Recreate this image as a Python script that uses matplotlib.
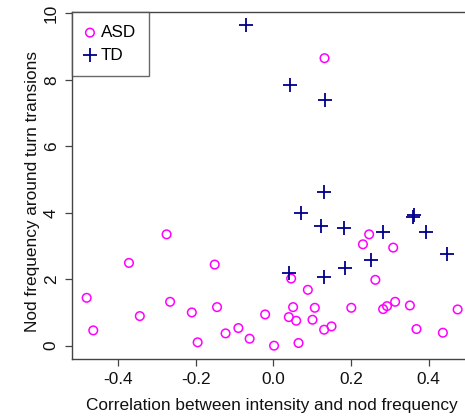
import matplotlib
matplotlib.use("Agg")
import matplotlib.pyplot as plt

plt.rcParams['font.family'] = ['Liberation Sans', 'DejaVu Sans']

# ASD group (circles)
asd_x = [-0.275, -0.372, -0.481, -0.266, -0.344, -0.210, -0.464, -0.195,
         -0.151, -0.145, -0.123, -0.090, -0.061,
         -0.021, 0.002, 0.046, 0.089, 0.051, 0.040, 0.059, 0.065, 0.107, 0.101, 0.131, 0.150,
         0.247, 0.231, 0.309, 0.263, 0.201, 0.283, 0.293, 0.314, 0.352, 0.369, 0.437, 0.475,
         0.132]
asd_y = [3.35, 2.49, 1.44, 1.32, 0.89, 1.00, 0.46, 0.10,
         2.44, 1.16, 0.37, 0.53, 0.21,
         0.94, 0.00, 2.02, 1.68, 1.16, 0.86, 0.75, 0.08, 1.14, 0.78, 0.48, 0.58,
         3.35, 3.05, 2.95, 1.98, 1.14, 1.10, 1.19, 1.32, 1.21, 0.50, 0.39, 1.09,
         8.65]

# TD group (plus)
td_x = [-0.070, 0.042, 0.132, 0.131, 0.071, 0.122, 0.183, 0.282,
        0.363, 0.359, 0.394, 0.447, 0.253, 0.186, 0.040, 0.131]
td_y = [9.64, 7.84, 7.39, 4.61, 4.00, 3.60, 3.55, 3.43,
        3.93, 3.88, 3.43, 2.76, 2.57, 2.33, 2.18, 2.06]

xticks = [-0.4, -0.2, 0.0, 0.2, 0.4]
xtick_labels = ["-0.4", "-0.2", "0.0", "0.2", "0.4"]
yticks = [0, 2, 4, 6, 8, 10]
ytick_labels = ["0", "2", "4", "6", "8", "10"]

W, H = 465, 417
fig = plt.figure(figsize=(W / 100, H / 100), dpi=100)
ax = fig.add_axes([72 / W, 1 - 359.3 / H, (471 - 72) / W, (359.3 - 12.3) / H])

ax.scatter(asd_x, asd_y, s=38, facecolors='none', edgecolors='#FF00FF',
           linewidths=1.1, label='ASD', zorder=3)
ax.scatter(td_x, td_y, s=110, marker='+', color='#00008B',
           linewidths=1.3, label='TD', zorder=3)

ax.set_xlim(-0.5188, 0.5095)
ax.set_ylim(-0.41, 10.03)
ax.set_xticks(xticks)
ax.set_xticklabels(xtick_labels)
ax.set_yticks(yticks)
ax.set_yticklabels(ytick_labels, rotation=90, va='center')

for s in ax.spines.values():
    s.set_color('#444444')
    s.set_linewidth(1.0)

FS = 12.4
ax.tick_params(axis='both', direction='out', length=5, width=0.9,
               color='#444444', labelsize=FS, labelcolor='#111111')
ax.tick_params(axis='x', pad=4)
ax.tick_params(axis='y', pad=4.5)

ax.set_xlabel("Correlation between intensity and nod frequency",
              fontsize=FS, color='#111111', labelpad=8)
ax.set_ylabel("Nod frequency around turn transions",
              fontsize=FS, color='#111111')
ax.yaxis.set_label_coords((39.5 - 72) / 399, (359.3 - 191) / 347)

leg = ax.legend(loc='upper left', fontsize=12.3, frameon=True, fancybox=False,
                edgecolor='#444444', borderpad=0.75, handletextpad=0.35,
                labelspacing=0.45, borderaxespad=0, handlelength=0.6)
leg.get_frame().set_linewidth(1.0)

fig.savefig("out.png", dpi=100)
